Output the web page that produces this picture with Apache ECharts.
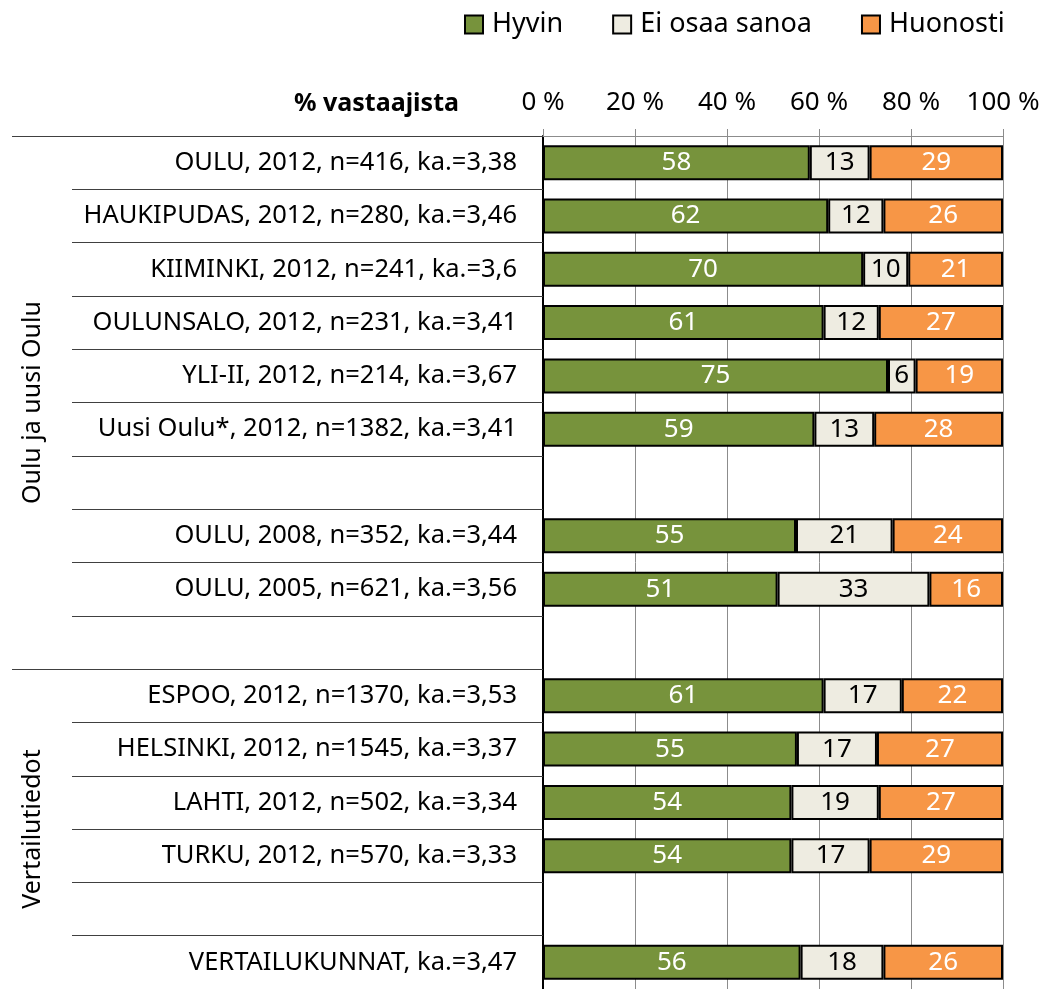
<!DOCTYPE html>
<html>
<head>
    <meta charset="utf-8">
    <title>vastaajista</title>
    <script src="https://cdn.jsdelivr.net/npm/echarts@6/dist/echarts.min.js"></script>
    <style>
        html, body { margin: 0; padding: 0; background: #fff; }
        #chart { width: 1043px; height: 989px; }
    </style>
</head>
<body>
    <div id="chart"></div>
    <script>
        // rivit ylhäältä alas, tyhjät välirivit mukana
        var categories = [
            'OULU, 2012, n=416, ka.=3,38',
            'HAUKIPUDAS, 2012, n=280, ka.=3,46',
            'KIIMINKI, 2012, n=241, ka.=3,6',
            'OULUNSALO, 2012, n=231, ka.=3,41',
            'YLI-II, 2012, n=214, ka.=3,67',
            'Uusi Oulu*, 2012, n=1382, ka.=3,41',
            ' ',
            'OULU, 2008, n=352, ka.=3,44',
            'OULU, 2005, n=621, ka.=3,56',
            '  ',
            'ESPOO, 2012, n=1370, ka.=3,53',
            'HELSINKI, 2012, n=1545, ka.=3,37',
            'LAHTI, 2012, n=502, ka.=3,34',
            'TURKU, 2012, n=570, ka.=3,33',
            '   ',
            'VERTAILUKUNNAT, ka.=3,47'
        ];
        // osuudet (%), näytetään pyöristettyinä
        var hyvin    = [58, 62, 69.6, 61, 75, 59, null, 55, 51, null, 61, 55.2, 54, 54, null, 56];
        var eiOsaa   = [13, 12, 9.8, 12, 6, 13, null, 21, 33, null, 17, 17.4, 19, 17, null, 18];
        var huonosti = [29, 26, 20.6, 27, 19, 28, null, 24, 16, null, 22, 27.4, 27, 29, null, 26];
        var xTicks = [0, 20, 40, 60, 80, 100];
        // ryhmät: [nimi, ensimmäinen rivi, viimeinen rivi]
        var groups = [['Oulu ja uusi Oulu', 0, 9], ['Vertailutiedot', 10, 15]];

        var font = "'Noto Sans', 'Open Sans', sans-serif";
        var chart = echarts.init(document.getElementById('chart'));

        function barSeries(name, data, color, textColor) {
            return {
                name: name,
                type: 'bar',
                stack: 'total',
                yAxisIndex: 1,
                barWidth: 35,
                data: data,
                itemStyle: { color: color, borderColor: '#000', borderWidth: 2 },
                label: {
                    show: true,
                    position: 'inside',
                    color: textColor,
                    fontFamily: font,
                    fontSize: 26,
                    formatter: function (p) { return Math.round(p.value); }
                }
            };
        }

        var option = {
            animation: false,
            title: {
                text: '% vastaajista',
                left: 289,
                top: 86,
                textStyle: { fontFamily: font, fontSize: 25, fontWeight: 'bold', color: '#000' }
            },
            legend: {
                top: 11,
                left: 464,
                padding: 0,
                icon: 'rect',
                itemWidth: 18,
                itemHeight: 18,
                itemGap: 49,
                textStyle: { fontFamily: font, fontSize: 27, color: '#000', padding: [0, 0, 0, 4] },
                data: ['Hyvin', 'Ei osaa sanoa', 'Huonosti']
            },
            grid: { left: 543, right: 40, top: 136, height: 861 },
            xAxis: {
                type: 'value',
                position: 'top',
                min: 0,
                max: 100,
                interval: 20,
                axisLine: { show: true, lineStyle: { color: '#8c8c8c', width: 1 } },
                axisTick: { show: true, length: 7, lineStyle: { color: '#8c8c8c' } },
                splitLine: { show: true, lineStyle: { color: '#8c8c8c', width: 1 } },
                axisLabel: {
                    margin: 20,
                    fontFamily: font,
                    fontSize: 26,
                    color: '#000',
                    formatter: function (v) { return xTicks.indexOf(v) >= 0 ? v + ' %' : ''; }
                }
            },
            yAxis: [{
                type: 'category',
                inverse: true,
                position: 'left',
                offset: 0,
                data: categories,
                axisLine: { show: false },
                axisTick: {
                    show: true,
                    length: 531,
                    interval: function (i) { return i === 0 || i === 10; },
                    lineStyle: { color: '#404040', width: 1 }
                },
                axisLabel: { show: false }
            }, {
                type: 'category',
                inverse: true,
                position: 'left',
                offset: 0,
                data: categories,
                axisLine: { show: true, lineStyle: { color: '#000', width: 2 } },
                axisTick: { show: true, length: 471, lineStyle: { color: '#404040', width: 1 } },
                axisLabel: {
                    margin: 26,
                    fontFamily: font,
                    fontSize: 25.5,
                    color: '#000'
                }
            }],
            series: [
                barSeries('Hyvin', hyvin, '#77933C', '#fff'),
                barSeries('Ei osaa sanoa', eiOsaa, '#EEECE1', '#000'),
                barSeries('Huonosti', huonosti, '#F79646', '#fff')
            ]
        };
        chart.setOption(option);

        // ryhmien otsikot pystyyn akselin vasemmalle puolelle
        var graphics = groups.map(function (g) {
            var y1 = chart.convertToPixel({ yAxisIndex: 1 }, categories[g[1]]);
            var y2 = chart.convertToPixel({ yAxisIndex: 1 }, categories[g[2]]);
            return {
                type: 'text',
                x: 33,
                y: (y1 + y2) / 2,
                rotation: Math.PI / 2,
                style: {
                    text: g[0],
                    font: '25px ' + font,
                    fill: '#000',
                    align: 'center',
                    verticalAlign: 'middle'
                }
            };
        });
        chart.setOption({ graphic: graphics });
    </script>
</body>
</html>
